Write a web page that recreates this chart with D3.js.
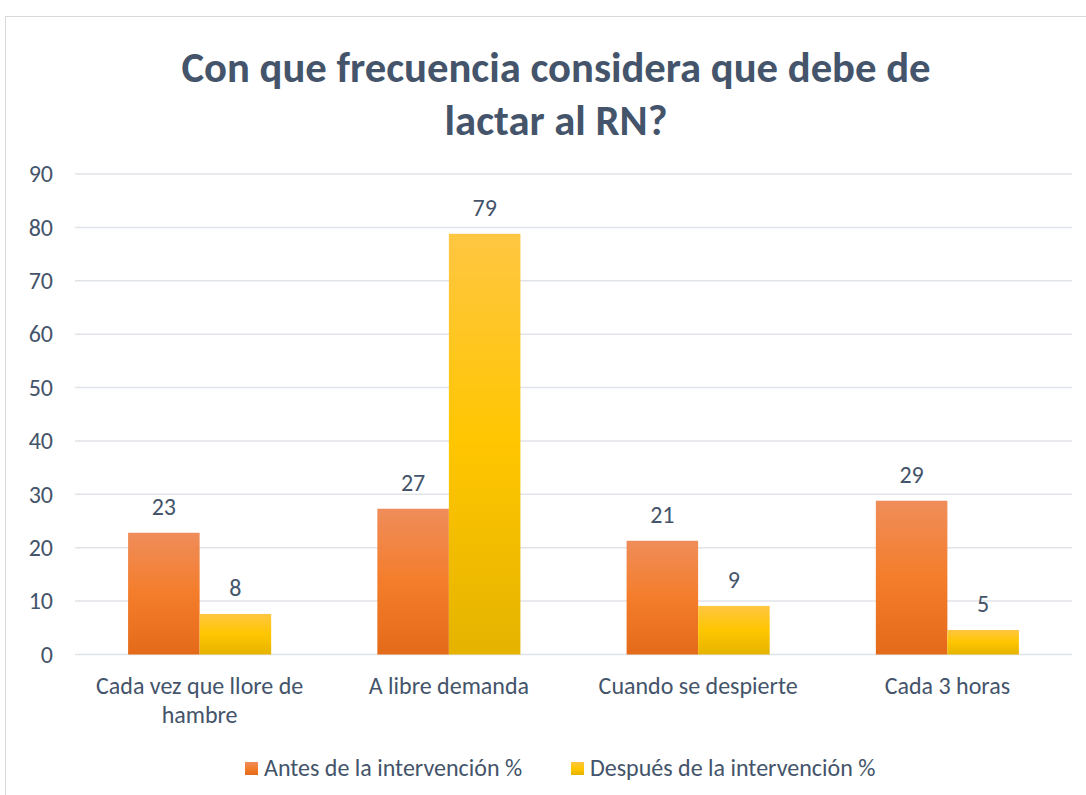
<!DOCTYPE html>
<html>
<head>
<meta charset="utf-8">
<script src="https://cdn.jsdelivr.net/npm/d3@7"></script>
<style>
  body { margin: 0; background: #fff; }
  svg text { font-family: Carlito, Calibri, Lato, sans-serif; }
</style>
</head>
<body>
<div class="plot"></div>
<script>
// data
const categories = ['Cada vez que llore de hambre', 'A libre demanda', 'Cuando se despierte', 'Cada 3 horas'];
const seriesNames = ['Antes de la intervención %', 'Después de la intervención %'];
const antes = [22.8, 27.3, 21.3, 28.8];
const despues = [7.6, 78.8, 9.1, 4.6];
const yTicks = [0, 10, 20, 30, 40, 50, 60, 70, 80, 90];

const W = 1086, H = 795;
const textColor = '#44546A';
const fontSize = '24px';

const svg = d3.select('.plot')
    .append('svg')
    .attr('width', W)
    .attr('height', H);

const defs = svg.append('defs');
const addGrad = (id, stops) => {
    const g = defs.append('linearGradient')
        .attr('id', id)
        .attr('x1', 0).attr('y1', 0).attr('x2', 0).attr('y2', 1);
    stops.forEach(s => g.append('stop').attr('offset', s[0]).attr('stop-color', s[1]));
};
addGrad('gOrange', [[0, '#EF8D5A'], [0.5, '#F47D2B'], [1, '#E36A19']]);
addGrad('gYellow', [[0, '#FFC642'], [0.5, '#FFC600'], [1, '#E5B300']]);
const fills = ['url(#gOrange)', 'url(#gYellow)'];

// chart frame
svg.append('rect')
    .attr('x', 5.5).attr('y', 16.5)
    .attr('width', W + 20).attr('height', H + 20)
    .attr('fill', 'none')
    .attr('stroke', '#D9D9D9');

// title
const titleLines = ['Con que frecuencia considera que debe de', 'lactar al RN?'];
titleLines.forEach((t, i) => {
    svg.append('text')
        .attr('x', 556).attr('y', 82 + i * 53)
        .attr('text-anchor', 'middle')
        .attr('font-size', '42.7px').attr('font-weight', 'bold')
        .attr('fill', textColor)
        .text(t);
});

const pLeft = 75, pRight = 1072, pTop = 174, pBottom = 654.5;

const x = d3.scaleBand()
    .domain(categories)
    .range([pLeft, pRight])
    .paddingInner(0.426)
    .paddingOuter(0.213);

const xs = d3.scaleBand()
    .domain([0, 1])
    .range([0, x.bandwidth()]);

const y = d3.scaleLinear()
    .domain([0, 90])
    .range([pBottom, pTop]);

// grid
svg.append('g')
    .selectAll('line')
    .data(yTicks)
    .enter()
    .append('line')
    .attr('x1', pLeft).attr('x2', pRight)
    .attr('y1', d => y(d)).attr('y2', d => y(d))
    .attr('stroke', '#E0E3E8')
    .attr('stroke-width', 1.5);

// y axis labels
const yAxis = d3.axisLeft(y).tickValues(yTicks).tickSize(0).tickPadding(0);
const ya = svg.append('g')
    .attr('transform', 'translate(53,0)')
    .call(yAxis);
ya.select('.domain').remove();
ya.selectAll('text')
    .attr('font-size', fontSize)
    .attr('fill', textColor)
    .attr('font-family', 'Carlito, Calibri, Lato, sans-serif');

// bars
const rows = categories.map((c, i) => ({ cat: c, vals: [antes[i], despues[i]] }));

const groups = svg.selectAll('.grp')
    .data(rows)
    .enter()
    .append('g')
    .attr('class', 'grp')
    .attr('transform', d => `translate(${x(d.cat)},0)`);

groups.selectAll('rect')
    .data(d => d.vals)
    .enter()
    .append('rect')
    .attr('x', (d, i) => xs(i))
    .attr('width', xs.bandwidth())
    .attr('y', d => y(d))
    .attr('height', d => y(0) - y(d))
    .attr('fill', (d, i) => fills[i]);

groups.selectAll('.lbl')
    .data(d => d.vals)
    .enter()
    .append('text')
    .attr('class', 'lbl')
    .attr('x', (d, i) => xs(i) + xs.bandwidth() / 2)
    .attr('y', d => y(d) - 18)
    .attr('text-anchor', 'middle')
    .attr('font-size', fontSize)
    .attr('fill', textColor)
    .text(d => d3.format('.0f')(d));

// category labels (wrapped like the original)
const catLines = {
    'Cada vez que llore de hambre': ['Cada vez que llore de', 'hambre']
};
categories.forEach(c => {
    const lines = catLines[c] || [c];
    lines.forEach((l, j) => {
        svg.append('text')
            .attr('x', x(c) + x.bandwidth() / 2)
            .attr('y', 694 + j * 29)
            .attr('text-anchor', 'middle')
            .attr('font-size', fontSize)
            .attr('fill', textColor)
            .text(l);
    });
});

// legend
const legendX = [245, 571];
seriesNames.forEach((s, i) => {
    svg.append('rect')
        .attr('x', legendX[i]).attr('y', 762)
        .attr('width', 13).attr('height', 13)
        .attr('fill', fills[i]);
    svg.append('text')
        .attr('x', legendX[i] + 19).attr('y', 776)
        .attr('font-size', fontSize)
        .attr('fill', textColor)
        .text(s);
});
</script>
</body>
</html>
